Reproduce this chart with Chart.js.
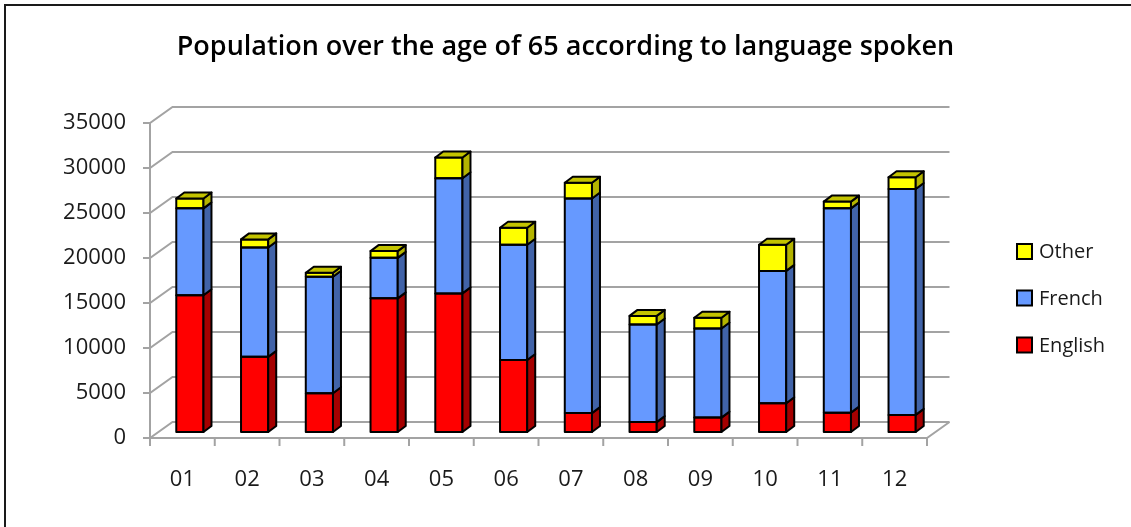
<!DOCTYPE html>
<html>
<head>
<meta charset="utf-8">
<title>Population over the age of 65 according to language spoken</title>
<script src="https://cdn.jsdelivr.net/npm/chart.js@4.4.1/dist/chart.umd.min.js"></script>
<style>
    html, body { margin: 0; padding: 0; background: #ffffff; }
    #wrap { width: 1131px; height: 527px; }
</style>
</head>
<body>
<div id="wrap"><canvas id="population-chart" width="1131" height="527"></canvas></div>
<script>
// Chart data
const regions = ['01', '02', '03', '04', '05', '06', '07', '08', '09', '10', '11', '12'];
const english = [15200, 8350, 4300, 14850, 15400, 8000, 2100, 1100, 1600, 3200, 2150, 1900];
const french = [9650, 12150, 12950, 4500, 12800, 12800, 23850, 10850, 9900, 14700, 22700, 25100];
const other = [1100, 900, 450, 750, 2300, 1900, 1750, 950, 1200, 2900, 750, 1300];
const yMax = 35000;
const yStep = 5000;

// Look of the fake 3D box
const FLOOR_DEPTH = { x: 22.5, y: -16 };  // front edge -> back wall
const BAR_SHIFT = { x: 7.5, y: -6 };      // bars sit a little behind the front edge
const BAR_DEPTH = { x: 8, y: -6 };        // thickness of each column
const GRID_COLOR = '#a3a3a3';
const FONT = "'Open Sans', 'DejaVu Sans', sans-serif";

const seriesStyle = [
    { label: 'English', front: '#ff0000', side: '#a50000', top: '#c80000' },
    { label: 'French', front: '#6699ff', side: '#4163a8', top: '#4f7fd6' },
    { label: 'Other', front: '#ffff00', side: '#b4b400', top: '#c3c300' }
];

/**
 * Draws the walls, floor, gridlines and axis tick marks behind the columns
 */
function drawBox(chart) {
    const ctx = chart.ctx;
    const area = chart.chartArea;
    const yScale = chart.scales.y;

    const left = area.left - BAR_SHIFT.x;
    const right = area.right - BAR_SHIFT.x;
    const yFront = v => yScale.getPixelForValue(v) - BAR_SHIFT.y;
    const bottom = yFront(0);

    ctx.save();
    ctx.strokeStyle = GRID_COLOR;
    ctx.lineWidth = 2;
    ctx.lineCap = 'butt';

    for (let v = 0; v <= yMax; v += yStep) {
        const y = yFront(v);
        ctx.beginPath();
        // tick on the left
        ctx.moveTo(left - 7, y);
        ctx.lineTo(left, y);
        // left wall diagonal
        ctx.lineTo(left + FLOOR_DEPTH.x, y + FLOOR_DEPTH.y);
        // back wall gridline
        ctx.lineTo(right + FLOOR_DEPTH.x, y + FLOOR_DEPTH.y);
        ctx.stroke();
    }

    // left wall front edge
    ctx.beginPath();
    ctx.moveTo(left, yFront(yMax));
    ctx.lineTo(left, bottom);
    // floor front and right edges
    ctx.lineTo(right, bottom);
    ctx.lineTo(right + FLOOR_DEPTH.x, bottom + FLOOR_DEPTH.y);
    ctx.stroke();

    // category tick marks under the floor
    const step = (right - left) / regions.length;
    ctx.beginPath();
    for (let i = 0; i <= regions.length; i++) {
        const x = left + i * step;
        ctx.moveTo(x, bottom);
        ctx.lineTo(x, bottom + 8);
    }
    ctx.stroke();
    ctx.restore();
}

/**
 * Outlines the flat Chart.js columns and adds their side and top faces
 */
function drawFaces(chart) {
    const ctx = chart.ctx;
    const metas = chart.data.datasets.map((ds, i) => chart.getDatasetMeta(i));

    ctx.save();
    ctx.strokeStyle = '#000000';
    ctx.lineWidth = 2;
    ctx.lineJoin = 'round';

    regions.forEach((region, index) => {
        metas.forEach((meta, dsIndex) => {
            const bar = meta.data[index];
            if (!bar) {
                return;
            }
            const props = bar.getProps(['x', 'y', 'base', 'width'], true);
            const r = props.x + props.width / 2;
            const l = props.x - props.width / 2;
            const top = Math.min(props.y, props.base);
            const base = Math.max(props.y, props.base);

            // outline of the front face
            ctx.strokeRect(l, top, r - l, base - top);

            // side face
            ctx.beginPath();
            ctx.moveTo(r, top);
            ctx.lineTo(r + BAR_DEPTH.x, top + BAR_DEPTH.y);
            ctx.lineTo(r + BAR_DEPTH.x, base + BAR_DEPTH.y);
            ctx.lineTo(r, base);
            ctx.closePath();
            ctx.fillStyle = seriesStyle[dsIndex].side;
            ctx.fill();
            ctx.stroke();

            // top face only on the highest segment
            if (dsIndex === metas.length - 1) {
                ctx.beginPath();
                ctx.moveTo(l, top);
                ctx.lineTo(l + BAR_DEPTH.x, top + BAR_DEPTH.y);
                ctx.lineTo(r + BAR_DEPTH.x, top + BAR_DEPTH.y);
                ctx.lineTo(r, top);
                ctx.closePath();
                ctx.fillStyle = seriesStyle[dsIndex].top;
                ctx.fill();
                ctx.stroke();
            }
        });
    });
    ctx.restore();
}

/**
 * Legend on the right, listed top series first
 */
function drawLegend(chart) {
    const ctx = chart.ctx;
    const rows = [
        { style: seriesStyle[2], y: 251.5 },
        { style: seriesStyle[1], y: 298 },
        { style: seriesStyle[0], y: 345 }
    ];

    ctx.save();
    ctx.font = `20px ${FONT}`;
    ctx.textBaseline = 'middle';
    ctx.textAlign = 'left';
    rows.forEach(row => {
        ctx.fillStyle = row.style.front;
        ctx.fillRect(1017, row.y - 7.5, 15, 15);
        ctx.strokeStyle = '#000000';
        ctx.lineWidth = 2;
        ctx.strokeRect(1017, row.y - 7.5, 15, 15);
        ctx.fillStyle = '#1a1a1a';
        ctx.fillText(row.style.label, 1039, row.y + 1);
    });
    ctx.restore();
}

/**
 * Thin frame on the top and left edge of the picture
 */
function drawFrame(chart) {
    const ctx = chart.ctx;
    ctx.save();
    ctx.strokeStyle = '#1a1a1a';
    ctx.lineWidth = 2;
    ctx.beginPath();
    ctx.moveTo(5, chart.height);
    ctx.lineTo(5, 5);
    ctx.lineTo(chart.width, 5);
    ctx.stroke();
    ctx.restore();
}

const box3dPlugin = {
    id: 'box3d',
    beforeDatasetsDraw(chart) {
        drawBox(chart);
    },
    afterDatasetsDraw(chart) {
        drawFaces(chart);
    },
    afterDraw(chart) {
        drawLegend(chart);
        drawFrame(chart);
    }
};

document.addEventListener('DOMContentLoaded', function() {
    const seriesValues = [english, french, other];
    const ctx = document.getElementById('population-chart').getContext('2d');

    new Chart(ctx, {
        type: 'bar',
        data: {
            labels: regions,
            datasets: seriesStyle.map((s, i) => ({
                label: s.label,
                data: seriesValues[i],
                backgroundColor: s.front,
                borderWidth: 0,
                barPercentage: 0.42,
                categoryPercentage: 1.0
            }))
        },
        options: {
            responsive: false,
            animation: false,
            events: [],
            layout: {
                padding: 0
            },
            plugins: {
                legend: { display: false },
                tooltip: { enabled: false },
                title: {
                    display: true,
                    text: 'Population over the age of 65 according to language spoken',
                    color: '#000000',
                    font: { family: FONT, size: 27, weight: '600', lineHeight: 1.2 },
                    padding: { top: 31, bottom: 53.6 }
                }
            },
            scales: {
                x: {
                    stacked: true,
                    grid: { display: false, drawTicks: false },
                    border: { display: false },
                    ticks: {
                        color: '#1a1a1a',
                        font: { family: FONT, size: 22 },
                        padding: 35,
                        labelOffset: -BAR_SHIFT.x,
                        maxRotation: 0
                    },
                    afterFit: scale => { scale.height = 95; }
                },
                y: {
                    stacked: true,
                    min: 0,
                    max: yMax,
                    grid: { display: false, drawTicks: false },
                    border: { display: false },
                    ticks: {
                        stepSize: yStep,
                        color: '#1a1a1a',
                        font: { family: FONT, size: 22 },
                        padding: 31.5,
                        labelOffset: -BAR_SHIFT.y,
                        callback: value => String(value)
                    },
                    afterFit: scale => { scale.width = 157.5; }
                },
                // empty axis that keeps room for the legend on the right
                legendSpace: {
                    type: 'linear',
                    position: 'right',
                    grid: { display: false, drawTicks: false },
                    border: { display: false },
                    ticks: { display: false },
                    afterFit: scale => { scale.width = 196.5; }
                }
            }
        },
        plugins: [box3dPlugin]
    });
});
</script>
</body>
</html>
